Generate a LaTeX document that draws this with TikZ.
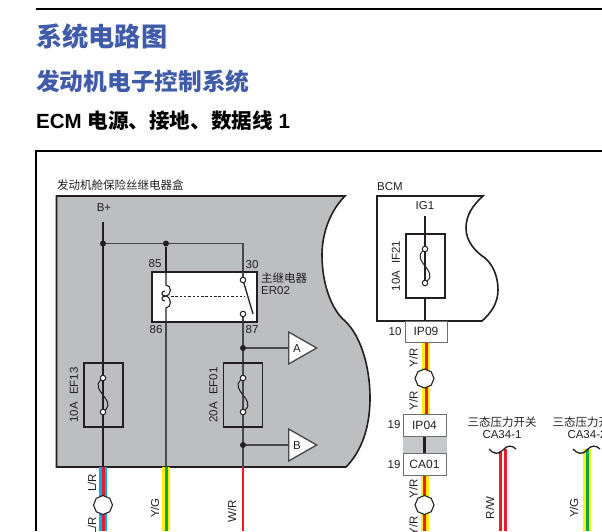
\documentclass[tikz,border=0pt]{standalone}
\usepackage{fontspec}
\usetikzlibrary{shapes.geometric,backgrounds}
\setmainfont{Liberation Sans}
\newfontfamily\cjk{Noto Sans CJK SC}
\definecolor{ink}{HTML}{231F20}
\definecolor{panel}{HTML}{BCBEC0}
\definecolor{lightpanel}{HTML}{C7C8CA}
\definecolor{titleblue}{HTML}{3F5BA9}
\definecolor{wred}{HTML}{ED1C24}
\definecolor{wyellow}{HTML}{FFF200}
\definecolor{wblue}{HTML}{00AEEF}
\definecolor{wgreen}{HTML}{00A651}
\definecolor{boxgray}{HTML}{6D6E71}
\definecolor{midgray}{HTML}{48484A}
\tikzset{
  lbl/.style={inner sep=0pt,text=ink,font=\fontsize{11.5}{12}\selectfont},
  vlbl/.style={lbl,rotate=90},
  thinwire/.style={draw=ink,line width=1.1pt},
  midwire/.style={draw=midgray,line width=1.3pt},
  thickwire/.style={draw=ink,line width=2.1pt},
  fusebox/.style={draw=ink,line width=1.7pt,fill=none,minimum width=39pt,minimum height=64pt,inner sep=0pt},
  term/.style={circle,draw=ink,fill=white,line width=1pt,minimum size=5.5pt,inner sep=0pt},
  dot/.style={circle,fill=ink,minimum size=6pt,inner sep=0pt},
  conn/.style={draw=boxgray,line width=1pt,fill=white,inner sep=0pt,text=ink,font=\fontsize{12}{12}\selectfont},
  octa/.style={regular polygon,regular polygon sides=8,shape border rotate=22.5,draw=ink,fill=white,line width=1.1pt,minimum size=19pt,inner sep=0pt},
  flag/.style={isosceles triangle,isosceles triangle apex angle=59,isosceles triangle stretches,draw=midgray,fill=white,line width=1.3pt,inner sep=0pt,minimum height=28pt,minimum width=32pt,anchor=lower side},
  wiggle/.style={draw=ink,line width=1pt},
  outline/.style={draw=ink,line width=1.6pt},
}
\begin{document}
\begin{tikzpicture}[x=1pt,y=-1pt]
\useasboundingbox (0,0) rectangle (602,531);
% free ends at the page edge
\coordinate (pgR) at (602,9);
\coordinate (pgTL) at (36,9);
\coordinate (frTL) at (36,151);
\coordinate (frTR) at (602,151);
\coordinate (frBL) at (36,531);
\draw[black,line width=2pt] (pgTL) -- (pgR);
\draw[black,line width=2pt] (frBL) -- (frTL) -- (frTR);

% titles
\node[anchor=west,inner sep=0pt,text=titleblue,font=\cjk\bfseries\fontsize{26.2}{28}\selectfont] (t1) at (36,37) {系统电路图};
\node[anchor=west,inner sep=0pt,text=titleblue,font=\cjk\bfseries\fontsize{23.7}{26}\selectfont] (t2) at (36,81) {发动机电子控制系统};
\node[anchor=west,inner sep=0pt,text=black,font=\bfseries\fontsize{20.5}{22}\selectfont] (t3) at (36,121) {ECM {\cjk\fontsize{20.6}{22}\selectfont 电源、接地、数据线} 1};

% ---------- labels of the two boxes
\node[lbl,anchor=west] (fbox) at (57,185) {\cjk 发动机舱保险丝继电器盒};
\node[lbl,anchor=west] (bcmname) at (377,187) {BCM};
\node[lbl] (bplus) at (104,208) {B+};
\node[lbl] (ig1) at (425,206) {IG1};

% ---------- relay
\node[draw=ink,line width=2pt,fill=white,minimum width=105pt,minimum height=50pt,inner sep=0pt] (relay) at (204.5,297) {};
\node[lbl] (n85) at (155,263.5) {85};
\node[lbl] (n30) at (252,265) {30};
\node[lbl] (n86) at (156,330) {86};
\node[lbl] (n87) at (252,330) {87};
\node[lbl,anchor=west] (rname) at (261,278) {\cjk 主继电器};
\node[lbl,anchor=west] (rcode) at (261,291) {ER02};
\coordinate (swtip) at (253,314);
\coordinate (coilT) at (166,285);
\coordinate (coilB) at (166,308);
\coordinate (dashL) at (171,296);
\coordinate (dashR) at (245,296);
\coordinate (c30top) at (243,272);
\coordinate (c87bot) at (243,322);
\coordinate (coilTtop) at (166,272);
\coordinate (coilBbot) at (166,322);
\draw[midwire] (c30top) -- (243,280);
\draw[midwire] (c87bot) -- (243,314);
\draw[thinwire,line width=1.3pt] (243,280) -- (swtip);
\node[term] (c30) at (243,280) {};
\node[term] (c87) at (243,314) {};
\draw[thinwire] (coilTtop) -- (coilT) .. controls (172,285) and (172,296) .. (165,296) .. controls (161,296) and (161,291) .. (165,291);
\draw[thinwire] (coilBbot) -- (coilB) .. controls (172,308) and (172,296) .. (165,296) .. controls (161,296) and (161,301) .. (165,301);
\draw[ink,line width=1pt,dash pattern=on 2.5pt off 1.8pt] (dashL) -- (dashR);

% ---------- fuses
\node[fusebox] (ef13) at (103.5,395) {};
\node[fusebox] (ef01) at (243,395) {};
\node[fusebox] (if21) at (425.5,266) {};
\node[vlbl] (lef13) at (74,395) {10A\hspace{4pt} EF13};
\node[vlbl] (lef01) at (213.5,395) {20A\hspace{4pt} EF01};
\node[vlbl] (lif21) at (396,266) {10A\hspace{4pt} IF21};
\node[term] (f1a) at (103,378) {};
\node[term] (f1b) at (103,412) {};
\node[term] (f2a) at (243,378) {};
\node[term] (f2b) at (243,412) {};
\node[term] (f3a) at (425,249) {};
\node[term] (f3b) at (425,283) {};
\draw[wiggle] (f1a) .. controls (90,390) and (116,400) .. (f1b);
\draw[wiggle] (f2a) .. controls (230,390) and (256,400) .. (f2b);
\draw[wiggle] (f3a) .. controls (412,261) and (438,271) .. (f3b);

% ---------- A / B flags
\node[flag] (flagA) at (288,348) {};
\node[flag] (flagB) at (288,445) {};
\node[lbl] (la) at (297,348.5) {A};
\node[lbl] (lb) at (297,445.5) {B};
\node[dot] (jA) at (243,348) {};
\node[dot] (jB) at (243,445) {};
\node[dot] (j1) at (103,243.5) {};
\node[dot] (j2) at (166,243.5) {};
\coordinate (b1) at (243,243.5);

% ---------- connectors
\node[conn,minimum width=42pt,minimum height=21pt] (ip09) at (426,331.5) {IP09};
\node[conn,minimum width=43pt,minimum height=22pt] (ip04) at (424.5,425) {IP04};
\node[conn,minimum width=43pt,minimum height=22pt] (ca01) at (424.5,464) {CA01};
\node[lbl] (p10) at (395,331.5) {10};
\node[lbl] (p19a) at (394,425) {19};
\node[lbl] (p19b) at (394,464.5) {19};

% ---------- splices
\node[octa] (oL) at (103,505) {};
\node[octa] (oR1) at (424.5,378.5) {};
\node[octa] (oR2) at (424.5,505) {};

% ---------- wire labels
\node[vlbl] (wLR1) at (92,483) {L/R};
\node[vlbl] (wLR2) at (92,526) {L/R};
\node[vlbl] (wYG) at (155,508) {Y/G};
\node[vlbl] (wWR) at (232,511) {W/R};
\node[vlbl] (wYR1) at (413.5,358) {Y/R};
\node[vlbl] (wYR2) at (413.5,401) {Y/R};
\node[vlbl] (wYR3) at (413.5,489) {Y/R};
\node[vlbl] (wYR4) at (413.5,526) {Y/R};
\node[vlbl] (wRW) at (490,508) {R/W};
\node[vlbl] (wYG2) at (574,508) {Y/G};

% ---------- right-hand switches
\node[lbl] (sw1) at (502,422) {\cjk 三态压力开关};
\node[lbl] (sw1c) at (502,435) {CA34-1};
\node[lbl] (sw2) at (587,422) {\cjk 三态压力开关};
\node[lbl] (sw2c) at (587,435) {CA34-2};
\coordinate (t1L) at (489,449);
\coordinate (t1R) at (516,449);
\coordinate (t2L) at (573,449);
\coordinate (t2R) at (600,449);
\draw[ink,line width=1.3pt] (t1L) .. controls (493,454) and (499,455) .. (503,450) .. controls (507,445) and (512,445) .. (t1R);
\draw[ink,line width=1.3pt] (t2L) .. controls (577,454) and (583,455) .. (587,450) .. controls (591,445) and (596,445) .. (t2R);

% ---------- everything behind the nodes
\coordinate (bot1) at (103,531);
\coordinate (bot2) at (166,531);
\coordinate (bot3) at (243,531);
\coordinate (bot4) at (424.5,531);
\coordinate (g1) at (103,467);
\coordinate (g2) at (166,467);
\coordinate (g3) at (243,467);
\coordinate (w1a) at (500,451);
\coordinate (w1b) at (505,449);
\coordinate (w2a) at (587,449);
\begin{scope}[on background layer]
\filldraw[fill=panel,outline] (56.5,196) -- (345,196)
  .. controls (331,210) and (322,232) .. (322,255)
  .. controls (322,285) and (332,310) .. (345,321)
  .. controls (360,335) and (370,365) .. (370,398)
  .. controls (370,430) and (360,453) .. (346,467)
  -- (56.5,467) -- cycle;
\filldraw[fill=white,outline] (377,196) -- (483,196)
  .. controls (473,205) and (466,215) .. (466,228)
  .. controls (466,242) and (476,252) .. (485,258)
  .. controls (492,264) and (498,275) .. (498,290)
  .. controls (498,303) and (491,313) .. (482,321)
  -- (377,321) -- cycle;
\fill[lightpanel] (ip04.south west) rectangle (ca01.north east);
\draw[thinwire] (103,222) -- (g1);
\draw[midwire] (j1) -- (b1) -- (c30top);
\draw[thickwire] (j2) -- (coilTtop);
\draw[midwire] (coilBbot) -- (g2);
\draw[midwire] (c87bot) -- (g3);
\draw[midwire] (jA) -- (flagA.lower side);
\draw[midwire] (jB) -- (flagB.lower side);
\draw[thinwire] (425,216) -- (f3a);
\draw[thinwire] (f3a) -- (f3b);
\draw[thickwire] (425,298) -- (425,321);
\draw[thickwire] (ip04.south) -- (ca01.north);
% coloured wires
\draw[wblue,line width=8pt] (g1) -- (bot1);
\draw[wred,line width=3pt] (g1) -- (bot1);
\draw[wyellow,line width=8pt] (g2) -- (bot2);
\draw[wgreen,line width=3pt] (g2) -- (bot2);
\draw[wred,line width=2pt] (g3) -- (bot3);
\draw[wyellow,line width=8pt] (ip09.south) -- (ip09.south |- ip04.north);
\draw[wred,line width=3pt] (ip09.south) -- (ip09.south |- ip04.north);
\draw[wyellow,line width=8pt] (ca01.south) -- (bot4);
\draw[wred,line width=3pt] (ca01.south) -- (bot4);
\draw[wred,line width=3pt] (w1a) -- (w1a |- bot4);
\draw[wred,line width=3pt] (w1b) -- (w1b |- bot4);
\draw[wyellow,line width=8pt] (w2a) -- (w2a |- bot4);
\draw[wgreen,line width=3pt] (w2a) -- (w2a |- bot4);
\end{scope}
\end{tikzpicture}
\end{document}
